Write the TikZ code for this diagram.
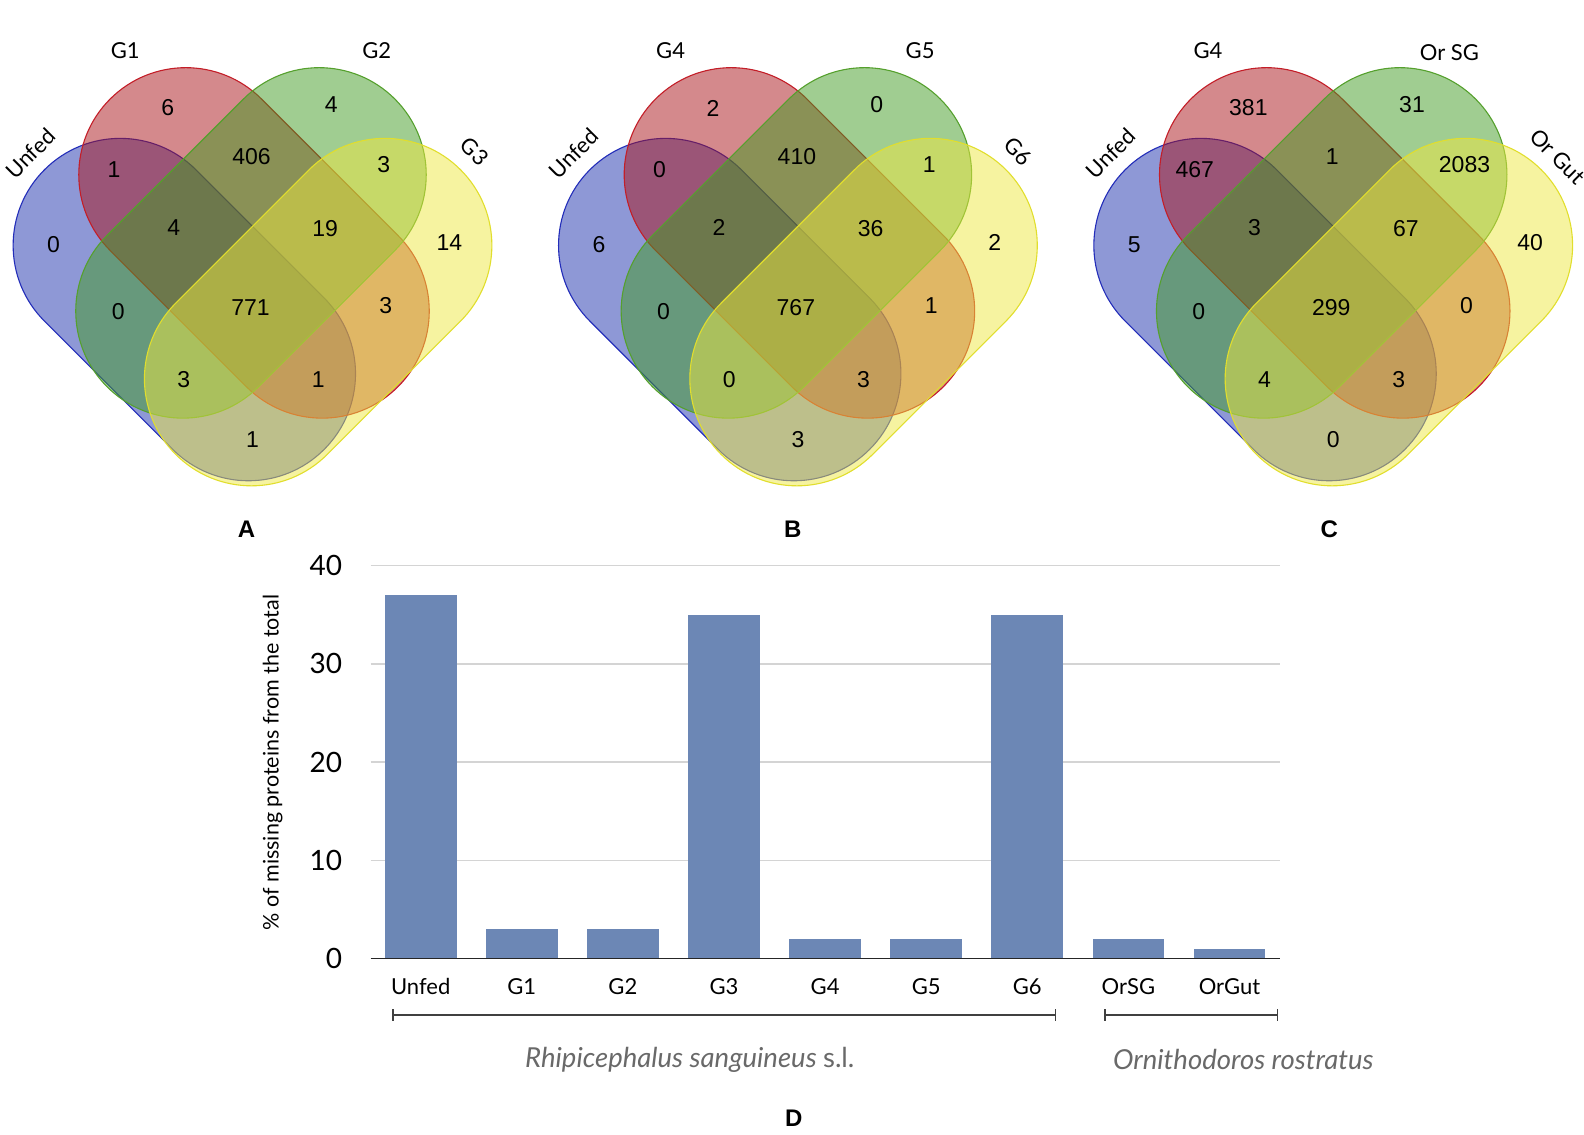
\documentclass[tikz,border=0pt]{standalone}
\usepackage{fontspec}
\setmainfont{Lato}
\newfontfamily\numfont{Liberation Sans}
\definecolor{vblue}{RGB}{29,49,173}
\definecolor{vred}{RGB}{169,19,25}
\definecolor{vgreen}{RGB}{65,155,35}
\definecolor{vyellow}{RGB}{237,231,65}
\definecolor{sblue}{RGB}{35,45,185}
\definecolor{sred}{RGB}{195,30,40}
\definecolor{sgreen}{RGB}{85,160,45}
\definecolor{syellow}{RGB}{225,222,45}
\definecolor{barcol}{RGB}{108,135,181}
\definecolor{gridcol}{RGB}{212,212,212}
\definecolor{spcol}{RGB}{105,105,105}
% capsule whose axis runs down-right from upper cap centre (#2,#3), length #4
\newcommand{\capdown}[4]{\path[#1] (#2,#3) ++(135:106) arc[start angle=135,end angle=315,radius=106] -- ++(#4,#4) arc[start angle=315,end angle=495,radius=106] -- cycle;}
% capsule whose axis runs down-left from upper cap centre (#2,#3), length #4
\newcommand{\capleft}[4]{\path[#1] (#2,#3) ++(45:106) arc[start angle=45,end angle=-135,radius=106] -- ++(-#4,#4) arc[start angle=-135,end angle=-315,radius=106] -- cycle;}
\newcommand{\vennshapes}{%
  \capdown{setblue}{119}{243}{127}
  \capdown{setred}{184}{173}{135}
  \capleft{setgreen}{316}{173}{135}
  \capleft{setyellow}{381}{243}{132}}
\begin{document}
\begin{tikzpicture}[x=1.01pt,y=-1.01pt,
  setblue/.style={fill=vblue,fill opacity=0.5,draw=sblue,line width=1.1pt},
  setred/.style={fill=vred,fill opacity=0.5,draw=sred,line width=1.1pt},
  setgreen/.style={fill=vgreen,fill opacity=0.5,draw=sgreen,line width=1.1pt},
  setyellow/.style={fill=vyellow,fill opacity=0.5,draw=syellow,line width=1.1pt},
  vnum/.style={font=\numfont\fontsize{23}{23}\selectfont,inner sep=0pt},
  vlab/.style={font=\fontsize{22}{22}\selectfont,inner sep=0pt},
  panel/.style={font=\numfont\bfseries\fontsize{24}{24}\selectfont,inner sep=0pt},
  ylab/.style={font=\fontsize{28}{28}\selectfont,inner sep=0pt,anchor=east},
  xlab/.style={font=\fontsize{22}{22}\selectfont,inner sep=0pt},
  spec/.style={font=\fontsize{27.5}{27.5}\selectfont\itshape,text=spcol,inner sep=0pt},
  gridline/.style={draw=gridcol,line width=1.4pt},
  axisline/.style={draw=black!85,line width=1.8pt},
  bracket/.style={draw=black!75,line width=1.3pt}]
\useasboundingbox (0,0) rectangle (1568.3,1122.8);
\clip (0,0) rectangle (1568.3,1122.8);

% ---------------- Panel A ----------------
\begin{scope}
\vennshapes
\node[vlab,rotate=45] (aU) at (30,152) {Unfed};
\node[vlab] (aG1) at (124,50) {G1};
\node[vlab] (aG2) at (373,50) {G2};
\node[vlab,rotate=-45] (aG3) at (470,150) {G3};
\node[vnum] (a1) at (166,107) {6};
\node[vnum] (a2) at (328,104) {4};
\node[vnum] (a3) at (113,168) {1};
\node[vnum] (a4) at (249,155) {406};
\node[vnum] (a5) at (380,163) {3};
\node[vnum] (a6) at (445,240) {14};
\node[vnum] (a7) at (53,242) {0};
\node[vnum] (a8) at (172,225) {4};
\node[vnum] (a9) at (322,226) {19};
\node[vnum] (a10) at (117,308) {0};
\node[vnum] (a11) at (248,305) {771};
\node[vnum] (a12) at (382,303) {3};
\node[vnum] (a13) at (182,376) {3};
\node[vnum] (a14) at (315,376) {1};
\node[vnum] (a15) at (250,435) {1};
\node[panel] (pA) at (244,524) {A};
\end{scope}

% ---------------- Panel B ----------------
\begin{scope}[shift={(540,0)}]
\vennshapes
\node[vlab,rotate=45] (bU) at (28,152) {Unfed};
\node[vlab] (bG4) at (124,50) {G4};
\node[vlab] (bG5) at (371,50) {G5};
\node[vlab,rotate=-45] (bG6) at (468,150) {G6};
\node[vnum] (b1) at (166,107) {2};
\node[vnum] (b2) at (328,104) {0};
\node[vnum] (b3) at (113,168) {0};
\node[vnum] (b4) at (249,155) {410};
\node[vnum] (b5) at (380,163) {1};
\node[vnum] (b6) at (445,240) {2};
\node[vnum] (b7) at (53,242) {6};
\node[vnum] (b8) at (172,225) {2};
\node[vnum] (b9) at (322,226) {36};
\node[vnum] (b10) at (117,308) {0};
\node[vnum] (b11) at (248,305) {767};
\node[vnum] (b12) at (382,303) {1};
\node[vnum] (b13) at (182,376) {0};
\node[vnum] (b14) at (315,376) {3};
\node[vnum] (b15) at (250,435) {3};
\node[panel] (pB) at (245,524) {B};
\end{scope}

% ---------------- Panel C ----------------
\begin{scope}[shift={(1070,0)}]
\vennshapes
\node[vlab,rotate=45] (cU) at (30,152) {Unfed};
\node[vlab] (cG4) at (126,50) {G4};
\node[vlab] (cSG) at (365,52) {Or SG};
\node[vlab,rotate=-45] (cGut) at (472,155) {Or Gut};
\node[vnum] (c1) at (166,107) {381};
\node[vnum] (c2) at (328,104) {31};
\node[vnum] (c3) at (113,168) {467};
\node[vnum] (c4) at (249,155) {1};
\node[vnum] (c5) at (380,163) {2083};
\node[vnum] (c6) at (445,240) {40};
\node[vnum] (c7) at (53,242) {5};
\node[vnum] (c8) at (172,225) {3};
\node[vnum] (c9) at (322,226) {67};
\node[vnum] (c10) at (117,308) {0};
\node[vnum] (c11) at (248,305) {299};
\node[vnum] (c12) at (382,303) {0};
\node[vnum] (c13) at (182,376) {4};
\node[vnum] (c14) at (315,376) {3};
\node[vnum] (c15) at (250,435) {0};
\node[panel] (pC) at (246,524) {C};
\end{scope}

% ---------------- Panel D : bar chart ----------------
\foreach \v in {10,20,30,40} {\draw[gridline] (367,{949-9.725*\v}) -- (1267,{949-9.725*\v});}
\foreach \i/\v/\lab in {0/37/Unfed,1/3/G1,2/3/G2,3/35/G3,4/2/G4,5/2/G5,6/35/G6,7/2/OrSG,8/1/OrGut} {
  \fill[barcol] ({416.5+100.1*\i-35.5},949) rectangle ({416.5+100.1*\i+35.5},{949-9.725*\v});
  \node[xlab] (x\i) at ({416.5+100.1*\i},977) {\lab};
}
\draw[axisline] (367,949) -- (1267,949);
\foreach \v in {0,10,20,30,40} {\node[ylab] (y\v) at (339,{949-9.725*\v}) {\v};}
\node[font=\fontsize{21.5}{21.5}\selectfont,rotate=90,inner sep=0pt] (ytitle) at (270,755) {\% of missing proteins from the total};
\draw[bracket] (389,999) -- (389,1011) (389,1005) -- (1045,1005) (1045,999) -- (1045,1011);
\draw[bracket] (1094,999) -- (1094,1011) (1094,1005) -- (1265,1005) (1265,999) -- (1265,1011);
\node[spec] (sp1) at (683,1049) {Rhipicephalus sanguineus \upshape s.l.};
\node[spec] (sp2) at (1231,1049) {Ornithodoros rostratus};
\node[panel] (pD) at (786,1107) {D};
\end{tikzpicture}
\end{document}
